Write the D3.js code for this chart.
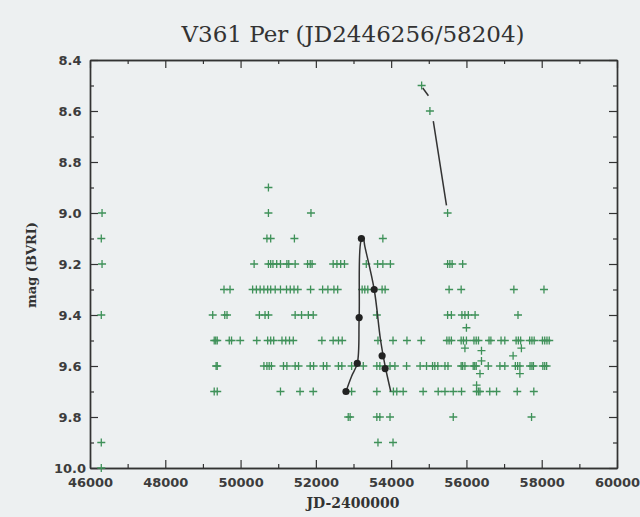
<!DOCTYPE html>
<html>
<head>
<meta charset="utf-8">
<script src="https://cdn.jsdelivr.net/npm/d3@7"></script>
<style>
  body { margin: 0; background: #edf0f1; }
  svg { display: block; }
</style>
</head>
<body>
<svg width="640" height="517"></svg>
<script>
// visual estimates, one row per magnitude level
const rowMags = [8.5, 8.6, 8.9, 9.0, 9.1, 9.2, 9.3, 9.4, 9.5, 9.6, 9.7, 9.8, 9.9, 10.0];
const rowJDs = [
  [54810],
  [55030],
  [50740],
  [46320, 50740, 51870, 55500],
  [46300, 50700, 50800, 51430, 53780],
  [46320, 50360, 50740, 50800, 50860, 50960, 51060, 51230, 51280, 51450, 51780, 51850, 51900,
   52460, 52560, 52660, 52760, 53340, 53640, 53780, 53980, 55500, 55560, 55620, 55900],
  [49560, 49720, 50320, 50420, 50520, 50620, 50720, 50800, 50920, 51060, 51220, 51320, 51420,
   51520, 51860, 52180, 52320, 52480, 52580, 53230, 53300, 53380, 53760, 53840, 55540, 55860,
   57260, 58060],
  [46300, 49260, 49580, 49640, 50500, 50650, 50740, 51450, 51620, 51800, 51930, 53620, 55500,
   55600, 55880, 55960, 56050, 56230, 57370],
  [49300, 49340, 49380, 49700, 49760, 49990, 50430, 50720, 50800, 50880, 51100, 51200, 51300,
   51400, 52160, 52460, 52600, 52700, 53650, 54050, 54420, 54800, 55480, 55540, 55600, 55860,
   55920, 56000, 56200, 56260, 56320, 56600, 56650, 56920, 57020, 57320, 57380, 57440, 57680,
   57740, 57800, 58020, 58080, 58140, 58200],
  [49350, 49380, 50620, 50700, 50760, 50820, 51140, 51230, 51450, 51540, 51850, 51940, 52200,
   52290, 52600, 52690, 52950, 53260, 53620, 53700, 53970, 54100, 54410, 54770, 54940, 55100,
   55160, 55240, 55430, 55510, 55860, 55900, 55960, 56180, 56220, 56260, 56580, 56890, 57020,
   57300, 57360, 57420, 57690, 57740, 57780, 58030, 58080, 58130],
  [49300, 49380, 51060, 51580, 51930, 52950, 53620, 54060, 54150, 54320, 54850, 55250, 55430,
   55650, 55870, 56270, 56320, 56360, 56620, 56800, 57350, 57790],
  [52860, 52910, 53620, 53700, 53970, 55650, 57730],
  [46300, 53650, 54050],
  [46300]
];
// off-grid estimates
const extraJD  = [56000, 55960, 56400, 56400, 56360, 56270, 57460, 57240, 57420];
const extraMag = [9.45, 9.53, 9.54, 9.58, 9.63, 9.675, 9.53, 9.56, 9.63];

// black fitted outburst curve and its points
const fitJD  = [52800, 52950, 53100, 53150, 53200, 53260, 53300, 53550, 53720, 53840, 53990];
const fitMag = [9.70, 9.64, 9.59, 9.41, 9.11, 9.10, 9.13, 9.30, 9.50, 9.60, 9.70];
const dotJD  = [52800, 53100, 53150, 53210, 53550, 53760, 53840];
const dotMag = [9.70, 9.59, 9.41, 9.10, 9.30, 9.56, 9.61];

// the two short dark strokes near the top
const segJD  = [[54840, 54990], [55120, 55470]];
const segMag = [[8.51, 8.54], [8.64, 8.97]];

const xMajor = [46000, 48000, 50000, 52000, 54000, 56000, 58000, 60000];
const xMinor = [47000, 49000, 51000, 53000, 55000, 57000, 59000];
const yMajor = [8.4, 8.6, 8.8, 9.0, 9.2, 9.4, 9.6, 9.8, 10.0];
const yMinor = [8.5, 8.7, 8.9, 9.1, 9.3, 9.5, 9.7, 9.9];

const svg = d3.select('svg');
const pLeft = 90, pRight = 617, pTop = 60, pBottom = 468;

const x = d3.scaleLinear().domain([46000, 60000]).range([pLeft, pRight]);
const y = d3.scaleLinear().domain([8.4, 10.0]).range([pTop, pBottom]);

const ink = '#333';
const green = '#3f9159';

// frame + ticks, all pointing inwards
function drawAxis(axis, tx, ty) {
  const g = svg.append('g').attr('transform', `translate(${tx},${ty})`).call(axis);
  g.select('.domain').attr('stroke', ink).attr('stroke-width', 1.4);
  g.selectAll('.tick line').attr('stroke', ink).attr('stroke-width', 1.2);
  return g;
}

drawAxis(d3.axisBottom(x).tickValues(xMinor).tickSize(-4).tickSizeOuter(0).tickFormat(''), 0, pBottom);
drawAxis(d3.axisTop(x).tickValues(xMinor).tickSize(-4).tickSizeOuter(0).tickFormat(''), 0, pTop);
drawAxis(d3.axisTop(x).tickValues(xMajor).tickSize(-8).tickSizeOuter(0).tickFormat(''), 0, pTop);
drawAxis(d3.axisLeft(y).tickValues(yMinor).tickSize(-4).tickSizeOuter(0).tickFormat(''), pLeft, 0);
drawAxis(d3.axisRight(y).tickValues(yMinor).tickSize(-4).tickSizeOuter(0).tickFormat(''), pRight, 0);
drawAxis(d3.axisRight(y).tickValues(yMajor).tickSize(-8).tickSizeOuter(0).tickFormat(''), pRight, 0);

const xb = drawAxis(d3.axisBottom(x).tickValues(xMajor).tickSize(-8).tickSizeOuter(0)
  .tickPadding(10).tickFormat(d3.format('d')), 0, pBottom);
const yl = drawAxis(d3.axisLeft(y).tickValues(yMajor).tickSize(-8).tickSizeOuter(0)
  .tickFormat(d3.format('.1f')), pLeft, 0);

[xb, yl].forEach(g => g.selectAll('.tick text')
  .attr('font-family', 'DejaVu Sans').attr('font-weight', 'bold')
  .attr('font-size', 13).attr('fill', '#3c3c3c'));
yl.selectAll('.tick text').attr('text-anchor', 'middle').attr('x', -20);

// green plus markers
const obs = [];
rowMags.forEach((m, i) => rowJDs[i].forEach(jd => obs.push([jd, m])));
extraJD.forEach((jd, i) => obs.push([jd, extraMag[i]]));

svg.append('g')
  .attr('stroke', green).attr('stroke-width', 1.3).attr('fill', 'none')
  .selectAll('path')
  .data(obs)
  .join('path')
  .attr('d', d => `M${x(d[0]) - 4},${y(d[1])}h8M${x(d[0])},${y(d[1]) - 4}v8`);

// outburst fit
const line = d3.line().x(d => x(d[0])).y(d => y(d[1])).curve(d3.curveCatmullRom.alpha(0.5));
svg.append('path')
  .attr('d', line(fitJD.map((jd, i) => [jd, fitMag[i]])))
  .attr('fill', 'none').attr('stroke', ink).attr('stroke-width', 1.5);

svg.append('g')
  .selectAll('circle')
  .data(dotJD.map((jd, i) => [jd, dotMag[i]]))
  .join('circle')
  .attr('cx', d => x(d[0])).attr('cy', d => y(d[1]))
  .attr('r', 3.6).attr('fill', '#222');

svg.append('g')
  .selectAll('path')
  .data(segJD.map((s, i) => s.map((jd, j) => [jd, segMag[i][j]])))
  .join('path')
  .attr('d', d3.line().x(d => x(d[0])).y(d => y(d[1])))
  .attr('fill', 'none').attr('stroke', ink).attr('stroke-width', 1.5);

// titles
svg.append('text')
  .attr('x', 353).attr('y', 42)
  .attr('text-anchor', 'middle')
  .attr('font-family', 'DejaVu Serif').attr('font-size', 23).attr('fill', '#333')
  .text('V361 Per (JD2446256/58204)');

svg.append('text')
  .attr('x', 353).attr('y', 508)
  .attr('text-anchor', 'middle')
  .attr('font-family', 'DejaVu Serif').attr('font-weight', 'bold')
  .attr('font-size', 14).attr('fill', '#333')
  .text('JD-2400000');

svg.append('text')
  .attr('transform', 'translate(36,265) rotate(-90)')
  .attr('text-anchor', 'middle')
  .attr('font-family', 'DejaVu Serif').attr('font-weight', 'bold')
  .attr('font-size', 13).attr('fill', '#333')
  .text('mag (BVRI)');
</script>
</body>
</html>
